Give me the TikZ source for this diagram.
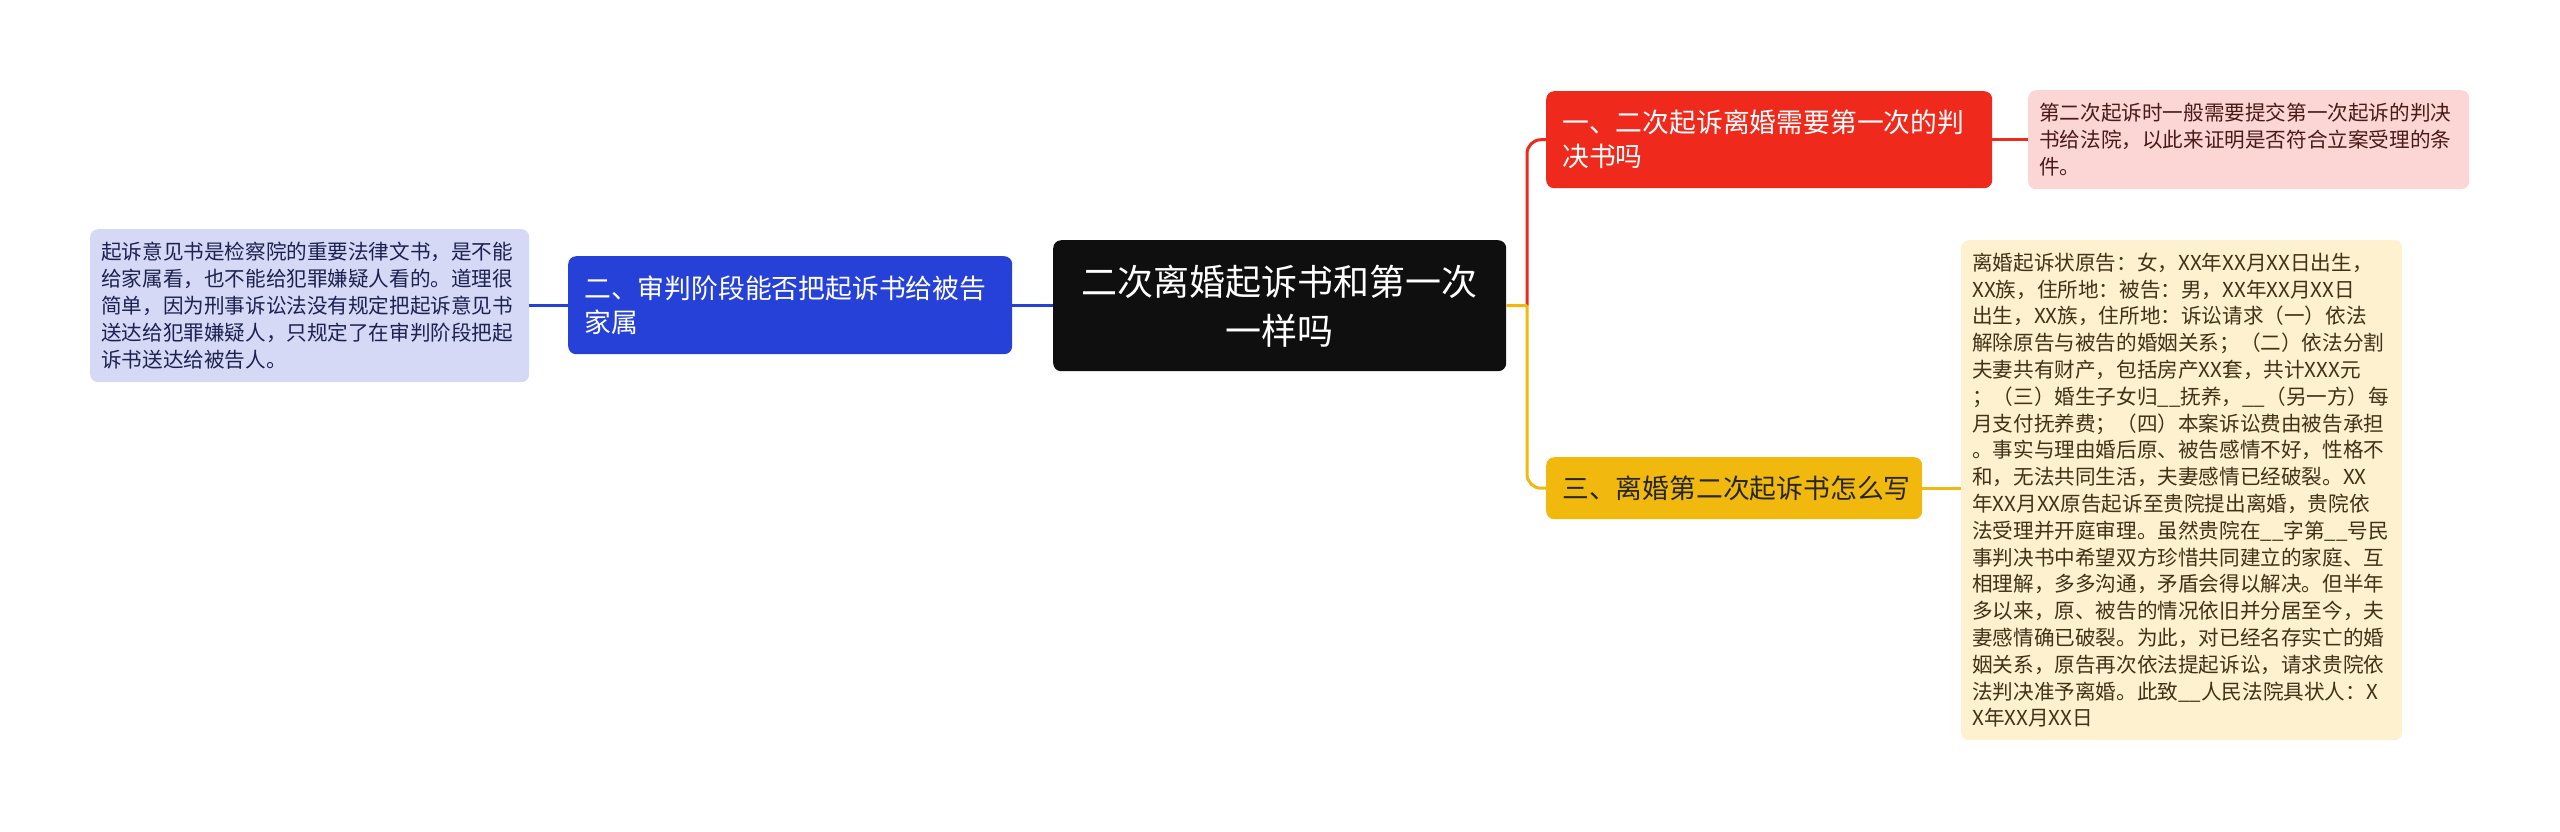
\documentclass[tikz,border=0pt]{standalone}
\usepackage{fontspec}
\setmainfont{Noto Sans CJK SC}
\definecolor{cblack}{HTML}{0F0F0F}
\definecolor{cred}{HTML}{EF2A1C}
\definecolor{cyel}{HTML}{F1B90E}
\definecolor{cblue}{HTML}{2641D8}
\definecolor{lred}{HTML}{FCD6D4}
\definecolor{lyel}{HTML}{FDF1D0}
\definecolor{lblue}{HTML}{D5D9F6}
\definecolor{tred}{HTML}{4A1A18}
\definecolor{tyel}{HTML}{3F3318}
\definecolor{tblue}{HTML}{1C2150}
\tikzset{
  box/.style={rounded corners=8pt, anchor=north west, inner ysep=0pt, align=left},
  rootbox/.style={box, fill=cblack, text=white, align=center, inner xsep=20pt,
    font=\fontsize{36}{49}\selectfont},
  topicbox/.style={box, inner xsep=16pt, font=\fontsize{26.8}{34}\selectfont},
  leafbox/.style={box, inner xsep=11pt, font=\fontsize{20.6}{26.8}\selectfont},
  link/.style={line width=3pt},
}
\begin{document}
\begin{tikzpicture}[x=1pt,y=-1pt]
\useasboundingbox (0,0) rectangle (2560,831);
\fill[white] (0,0) rectangle (2560,831);

\node[rootbox, text width=413pt, minimum width=453pt, minimum height=131pt] (root) at (1053,240)
  {二次离婚起诉书和第一次\\一样吗};

\node[topicbox, fill=cred, text=white, text width=414pt, minimum height=97pt] (t1) at (1546,91)
  {一、二次起诉离婚需要第一次的判\\决书吗};

\node[topicbox, fill=cyel, text=black!85, text width=344pt, minimum height=62pt] (t3) at (1546,457)
  {三、离婚第二次起诉书怎么写};

\node[topicbox, fill=cblue, text=white, text width=412pt, minimum height=98pt] (t2) at (568,256)
  {二、审判阶段能否把起诉书给被告\\家属};

\node[leafbox, fill=lred, text=tred, text width=419pt, minimum height=99pt] (l1) at (2028,90)
  {第二次起诉时一般需要提交第一次起诉的判决\\书给法院，以此来证明是否符合立案受理的条\\件。};

\node[leafbox, fill=lyel, text=tyel, text width=419pt, minimum height=500pt] (l3) at (1961,240)
  {离婚起诉状原告：女，XX年XX月XX日出生，\\
   XX族，住所地：被告：男，XX年XX月XX日\\
   出生，XX族，住所地：诉讼请求（一）依法\\
   解除原告与被告的婚姻关系；（二）依法分割\\
   夫妻共有财产，包括房产XX套，共计XXX元\\
   ；（三）婚生子女归\_\_抚养，\_\_（另一方）每\\
   月支付抚养费；（四）本案诉讼费由被告承担\\
   。事实与理由婚后原、被告感情不好，性格不\\
   和，无法共同生活，夫妻感情已经破裂。XX\\
   年XX月XX原告起诉至贵院提出离婚，贵院依\\
   法受理并开庭审理。虽然贵院在\_\_字第\_\_号民\\
   事判决书中希望双方珍惜共同建立的家庭、互\\
   相理解，多多沟通，矛盾会得以解决。但半年\\
   多以来，原、被告的情况依旧并分居至今，夫\\
   妻感情确已破裂。为此，对已经名存实亡的婚\\
   姻关系，原告再次依法提起诉讼，请求贵院依\\
   法判决准予离婚。此致\_\_人民法院具状人：X\\
   X年XX月XX日};

\node[leafbox, fill=lblue, text=tblue, text width=417pt, minimum height=153pt] (l2) at (90,229)
  {起诉意见书是检察院的重要法律文书，是不能\\给家属看，也不能给犯罪嫌疑人看的。道理很\\简单，因为刑事诉讼法没有规定把起诉意见书\\送达给犯罪嫌疑人，只规定了在审判阶段把起\\诉书送达给被告人。};

\coordinate (jc) at (1527,305.5);

\draw[link, cred, rounded corners=14pt] (jc) |- (t1.west);
\draw[link, cyel, rounded corners=14pt] (jc) |- (t3.west);
\draw[link, cyel] (root.east) -- (jc);
\draw[link, cred] (t1.east) -- (l1.west |- t1.east);
\draw[link, cyel] (t3.east) -- (l3.west |- t3.east);
\draw[link, cblue] (root.west) -- (t2.east |- root.west);
\draw[link, cblue] (t2.west) -- (l2.east |- t2.west);
\end{tikzpicture}
\end{document}
